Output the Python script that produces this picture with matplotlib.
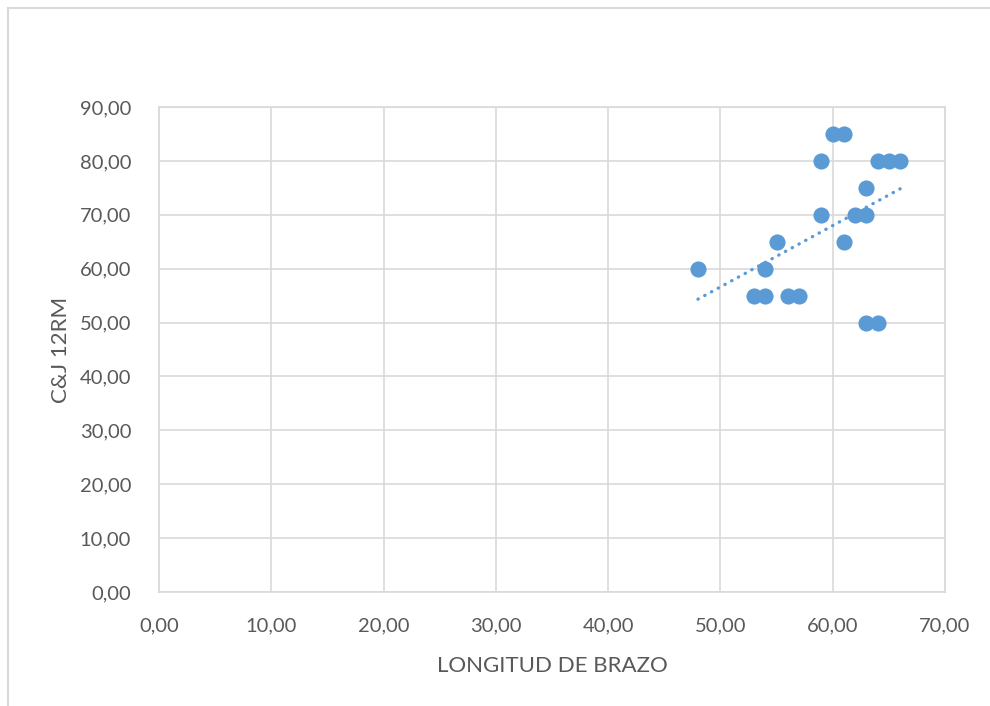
# -*- coding: utf-8 -*-
import numpy as np
import matplotlib
matplotlib.use("Agg")
from matplotlib import pyplot as plt
from matplotlib.lines import Line2D
from matplotlib.ticker import FuncFormatter

# datos
longitud = [48, 53, 54, 56, 57, 54, 55, 59, 59, 60,
            61, 61, 62, 63, 63, 64, 65, 66, 63, 64]
cj_12rm = [60, 55, 55, 55, 55, 60, 65, 80, 70, 85,
           85, 65, 70, 70, 75, 80, 80, 80, 50, 50]

x_ticks = np.arange(0, 71, 10)
y_ticks = np.arange(0, 91, 10)

azul = "#5B9BD5"
gris = "#D9D9D9"
texto = "#595959"

plt.rcParams['font.family'] = ['Lato', 'DejaVu Sans']

fig = plt.figure(figsize=(9.9, 7.06), dpi=100)
ax = fig.add_axes([159 / 990, 1 - 592 / 706, (945 - 159) / 990, (592 - 107) / 706])

ax.scatter(longitud, cj_12rm, s=135, color=azul, zorder=3, linewidths=0)

# linea de tendencia lineal
a, b = np.polyfit(longitud, cj_12rm, 1)
xt = np.array([min(longitud), max(longitud)])
ax.plot(xt, a * xt + b, color=azul, lw=2.4, linestyle=(0, (0.1, 2.2)),
        dash_capstyle='round', zorder=2)

ax.set_xlim(0, 70)
ax.set_ylim(0, 90)
ax.set_xticks(x_ticks)
ax.set_yticks(y_ticks)
fmt = FuncFormatter(lambda v, p: ("%.2f" % v).replace(".", ","))
ax.xaxis.set_major_formatter(fmt)
ax.yaxis.set_major_formatter(fmt)
ax.grid(True, color=gris, lw=1.2, zorder=0)
ax.set_axisbelow(True)
for s in ax.spines.values():
    s.set_color(gris)
    s.set_linewidth(1.2)
ax.tick_params(length=0, labelsize=14.5, colors=texto)
ax.tick_params(axis='x', pad=18)
ax.tick_params(axis='y', pad=20)

ax.set_xlabel("LONGITUD DE BRAZO", fontsize=16, color=texto, labelpad=16)
ax.set_ylabel("C&J 12RM", fontsize=16, color=texto, labelpad=6)

# borde del area del grafico
fig.add_artist(Line2D([8 / 990, 8 / 990], [0, 1 - 8 / 706], color=gris, lw=1.5))
fig.add_artist(Line2D([8 / 990, 1], [1 - 8 / 706, 1 - 8 / 706], color=gris, lw=1.5))

fig.savefig("out.png", dpi=100)
